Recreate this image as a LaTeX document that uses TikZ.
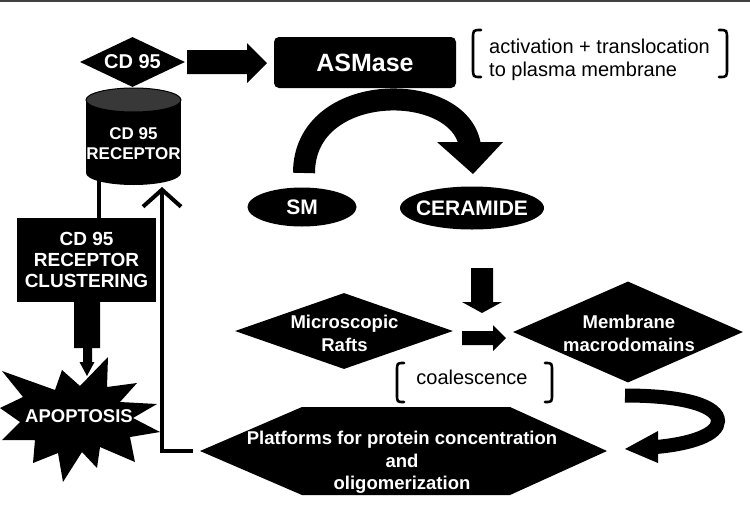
\documentclass[tikz,border=0pt]{standalone}
\usepackage{fontspec}
\setmainfont{Liberation Sans}
\usetikzlibrary{shapes.geometric,arrows.meta,calc}
\begin{document}
\begin{tikzpicture}[x=1pt,y=-1pt,
  blk/.style={fill=black, draw=none, inner sep=0pt},
  wt/.style n args={2}{text=white, font=\bfseries\fontsize{#1}{#2}\selectfont, align=center, inner sep=0pt},
  plain/.style n args={2}{text=black, font=\fontsize{#1}{#2}\selectfont, inner sep=0pt},
  brk/.style={line width=2.6pt, line cap=round},
  conn/.style={line width=4.5pt}]
\useasboundingbox (0,0) rectangle (750,512);
\fill[white] (0,0) rectangle (750,512);
\draw[line width=2pt, black!75] (0,1) -- (750,1);

% CD95 ligand
\node[diamond, blk, minimum width=105pt, minimum height=50pt] (cd) at (132.5,62) {};
\node[wt={20}{22}] at (cd) {CD 95};

% ASMase
\node[rectangle, blk, rounded corners=5pt, minimum width=182pt, minimum height=51pt, wt={25}{28}] (as) at (365,62.5) {ASMase};

% block arrow CD95 -> ASMase
\coordinate (a1t) at (267,63);
\fill (187,50) -- (247,50) -- (247,43) -- (a1t) -- (247,83) -- (247,74) -- (187,74) -- cycle;

% bracket: activation
\node[plain={20}{23}, anchor=west, align=left] (act) at (489,59.5) {activation + translocation\\to plasma membrane};
\draw[brk] (481,30) .. controls (473,30) .. (473,39) -- (473,68) .. controls (473,77) .. (481,77);
\draw[brk] (719,30) .. controls (727,30) .. (727,39) -- (727,68) .. controls (727,77) .. (719,77);

% Cylinder receptor
\fill (86,100) rectangle (181,173);
\fill (133.5,173) ellipse [x radius=47.5, y radius=12];
\filldraw[fill=black!78, draw=black, line width=1pt] (133.5,100) ellipse [x radius=47.5, y radius=12];
\node[wt={17}{20}] (rec) at (133.5,144) {CD 95\\RECEPTOR};

% Clustering
\node[rectangle, blk, minimum width=139pt, minimum height=84pt, wt={19}{21}] (clu) at (86.5,260) {CD 95\\RECEPTOR\\CLUSTERING};
\coordinate (recb) at (99,179);
\draw[conn] (recb) -- (recb |- clu.north);

% block arrow clustering -> apoptosis
\fill (74,302) -- (100,302) -- (100,348) -- (92,348) -- (92,362) -- (94.5,362) -- (87,376) -- (79.5,362) -- (83,362) -- (83,348) -- (74,348) -- cycle;

% Apoptosis starburst
\fill (2,371) -- (55,390) -- (62,370) -- (80,386) -- (108,357) -- (107,387) -- (137,383) -- (120,402) -- (157,404) -- (133,418) -- (160,432) -- (130,437) -- (135,462) -- (100,447) -- (97,468) -- (82,452) -- (63,482) -- (58,453) -- (33,463) -- (35,440) -- (2,440) -- (20,422) -- (0,408) -- (23,397) -- cycle;
\node[wt={18.5}{20}] (apo) at (79,416) {APOPTOSIS};

% SM and CERAMIDE
\node[ellipse, blk, minimum width=109pt, minimum height=39pt] (sm) at (302,207) {};
\node[wt={21}{24}] at (sm) {SM};
\node[ellipse, blk, minimum width=144pt, minimum height=43pt] (cer) at (472,208) {};
\node[wt={21}{24}] at (cer) {CERAMIDE};

% arc arrow SM -> CERAMIDE
\coordinate (arcS) at (304,173);
\coordinate (arcE) at (470,146);
\draw[line width=22pt] (arcS) .. controls (304,80) and (460,80) .. (arcE);
\fill (437,142) -- (503,142) -- (473,174) -- cycle;

% down arrow ceramide -> macrodomains
\fill (471,268) -- (493,268) -- (493,302) -- (502,302) -- (482,313) -- (462,302) -- (471,302) -- cycle;

% Microscopic rafts
\node[diamond, blk, minimum width=218pt, minimum height=76pt] (raft) at (344,331) {};
\node[wt={18.5}{23}] at (344.5,333.5) {Microscopic\\Rafts};

% right arrow rafts -> macrodomains
\fill (462,331) -- (493,331) -- (493,325) -- (506,338) -- (493,351) -- (493,345) -- (462,345) -- cycle;

% Membrane macrodomains
\node[diamond, blk, minimum width=230pt, minimum height=101pt] (mem) at (628,332) {};
\node[wt={18.5}{23}] at (629,333.5) {Membrane\\macrodomains};

% coalescence
\node[plain={20}{23}] (coal) at (472,377) {coalescence};
\draw[brk] (404,363) .. controls (397,363) .. (397,371) -- (397,394) .. controls (397,402) .. (404,402);
\draw[brk] (545,363) .. controls (552,363) .. (552,371) -- (552,394) .. controls (552,402) .. (545,402);

% Platforms hexagon
\fill (200,451) coordinate (platW) -- (302,407) -- (510,407) -- (607,451) coordinate (platE) -- (510,495) -- (302,495) -- cycle;
\node[wt={18.5}{22.5}] (plat) at (402,462.5) {Platforms for protein concentration\\and\\oligomerization};

% curved arrow macrodomains -> platforms
\draw[line width=14pt] (625,395.5) .. controls (688,395.5) and (718,407) .. (718,421) .. controls (718,435) and (690,444) .. (656,447);
\fill (658,431) -- (658,463) -- (625,449) -- cycle;

% feedback platforms -> receptor
\coordinate (fbS) at (193,451);
\coordinate (fbT) at (162,187);
\draw[line width=4pt, -{Straight Barb[length=17pt, width=38pt]}] (fbS) -| (fbT);
\end{tikzpicture}
\end{document}
